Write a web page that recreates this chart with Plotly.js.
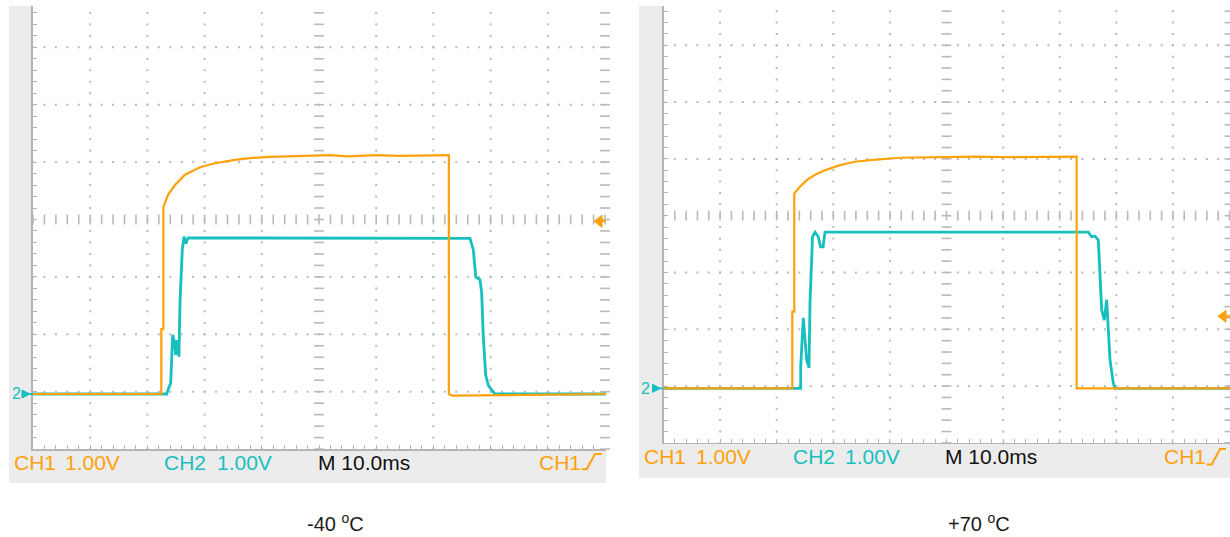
<!DOCTYPE html>
<html>
<head>
<meta charset="utf-8">
<script src="https://cdn.plot.ly/plotly-3.0.1.min.js"></script>
<style>
html,body{margin:0;padding:0;background:#ffffff;}
#chart{width:1230px;height:537px;}
</style>
</head>
<body>
<div id="chart"></div>
<script>
// ---------------- DATA (time in ms, voltage in V relative to ground; 1 V/div, 10 ms/div) ----------------
const panelCaptions = ['-40 <sup>o</sup>C', '+70 <sup>o</sup>C'];
const scaleLabels = ['CH1', '1.00V', 'CH2', '1.00V', 'M 10.0ms', 'CH1'];
const groundLabel = '2';

// -40 C, CH1 (orange)
const leftCh1T = [0, 22.43, 22.43, 22.78, 22.78, 23.6, 24.83, 26.57, 29.2, 31.8, 35.3, 37.9, 41.4, 46.7, 52.0, 55.0, 60.0, 64.0, 68.0, 72.7, 72.7, 73.3, 100.2];
const leftCh1V = [0, 0, 1.13, 1.13, 3.25, 3.47, 3.64, 3.82, 3.95, 4.02, 4.08, 4.11, 4.13, 4.15, 4.16, 4.14, 4.16, 4.15, 4.16, 4.16, 0.0, -0.03, 0];
// -40 C, CH2 (cyan)
const leftCh2T = [0, 23.37, 23.6, 24.07, 24.42, 24.74, 24.95, 25.17, 25.52, 25.70, 26.10, 26.40, 26.75, 27.10, 76.40, 76.98, 77.40, 78.15, 78.44, 78.72, 79.14, 79.60, 80.19, 80.77, 100.2];
const leftCh2V = [0, 0, 0.07, 0.19, 1.03, 0.89, 0.68, 0.94, 0.65, 1.61, 2.51, 2.74, 2.62, 2.72, 2.71, 2.51, 2.04, 1.99, 1.76, 1.00, 0.33, 0.15, 0.07, 0, 0];

// +70 C, CH1 (orange)
const rightCh1T = [0, 22.76, 22.76, 23.11, 23.11, 24.1, 25.35, 26.77, 28.53, 31.2, 33.8, 36.5, 41.8, 47.1, 55.0, 60.0, 66.0, 73.0, 73.0, 100.1];
const rightCh1V = [0, 0, 1.35, 1.35, 3.43, 3.55, 3.67, 3.76, 3.84, 3.93, 3.99, 4.02, 4.06, 4.07, 4.08, 4.07, 4.08, 4.08, 0, 0];
// +70 C, CH2 (cyan)
const rightCh2T = [0, 24.24, 24.24, 24.70, 25.30, 25.71, 25.88, 26.33, 26.77, 27.35, 27.74, 28.2, 28.53, 75.05, 75.65, 76.24, 76.82, 77.0, 77.42, 77.88, 78.30, 78.5, 78.89, 79.47, 79.77, 100.1];
const rightCh2V = [0, 0, 0.38, 1.24, 0.50, 0.36, 1.50, 2.67, 2.75, 2.67, 2.49, 2.49, 2.75, 2.75, 2.67, 2.68, 2.61, 2.26, 1.38, 1.20, 1.56, 1.20, 0.50, 0.09, 0, 0];

// CH1 trigger level (V) shown by the arrow at the right edge
const triggerLevelV = [3.01, 1.27];

// ---------------- LAYOUT GEOMETRY ----------------
const W = 1230, H = 537;
const ORANGE = '#ffa10a', CYAN = '#17bfbf', GRID = '#b9b9b9', EDGE = '#b4b4b4';
const panels = [
  {x0: 33, x1: 606, pxPerMs: 5.72, yTop: 6, center: 219.5, divPx: 57.4, groundDiv: -3.04,
   frame: [9, 606, 6, 483], textY: 462, textX: [12, 63, 162, 215, 316, 537],
   glyph: [[581.7,469.3],[586.7,469.3],[595,454],[601.7,454]], gndX: 16, capX: 335,
   ch1: [leftCh1T, leftCh1V], ch2: [leftCh2T, leftCh2V]},
  {x0: 663.5, x1: 1230, pxPerMs: 5.66, yTop: 6, center: 215.7, divPx: 56.8, groundDiv: -3.04,
   frame: [639, 1230, 6, 478], textY: 456, textX: [642, 694, 791, 843, 943, 1162],
   glyph: [[1206.7,464.5],[1211.7,464.5],[1220,449],[1226,449]], gndX: 646, capX: 979,
   ch1: [rightCh1T, rightCh1V], ch2: [rightCh2T, rightCh2V]}
];

const px = x => x / W;
const py = y => 1 - y / H;

const traces = [];
const layout = {
  width: W, height: H,
  margin: {l: 0, r: 0, t: 0, b: 0},
  paper_bgcolor: '#ffffff', plot_bgcolor: 'rgba(0,0,0,0)',
  showlegend: false, shapes: [], annotations: []
};

function range(a, b, s) { const r = []; for (let v = a; v <= b + 1e-9; v += s) r.push(+v.toFixed(4)); return r; }

panels.forEach((p, i) => {
  const ax = i === 0 ? '' : '2';
  const xa = 'x' + ax, ya = 'y' + ax;
  const tMax = (p.x1 - p.x0) / p.pxPerMs;
  const g = p.groundDiv;
  const bottomDiv = -4;
  const topDiv = (p.center - p.yTop) / p.divPx;
  const yBottomPx = p.center + 4 * p.divPx;
  const v = d => d - g; // division -> volts
  const msPx = 1 / p.pxPerMs, vPx = 1 / p.divPx; // one pixel in data units
  const groundPx = p.center - g * p.divPx;     // pixel row of 0 V

  layout['xaxis' + ax] = {domain: [px(p.x0), px(p.x1)], range: [0, tMax], anchor: ya,
    showgrid: false, zeroline: false, showticklabels: false, ticks: 'inside', tick0: 0, dtick: 2,
    ticklen: 4, tickwidth: 1, tickcolor: EDGE, showline: true, linecolor: EDGE, linewidth: 1.5, fixedrange: true};
  layout['yaxis' + ax] = {domain: [py(yBottomPx), py(p.yTop)], range: [v(bottomDiv), v(topDiv)], anchor: xa,
    showgrid: false, zeroline: false, showticklabels: false, ticks: 'inside', tick0: v(0), dtick: 0.2,
    ticklen: 4, tickwidth: 1, tickcolor: EDGE, showline: true, linecolor: EDGE, linewidth: 2, fixedrange: true};

  // panel backgrounds
  layout.shapes.push({type: 'rect', xref: 'paper', yref: 'paper', layer: 'below',
    x0: px(p.frame[0]), x1: px(p.frame[1]), y0: py(p.frame[3]), y1: py(p.frame[2]),
    fillcolor: '#ececec', line: {width: 0}});
  layout.shapes.push({type: 'rect', xref: 'paper', yref: 'paper', layer: 'below',
    x0: px(p.x0), x1: px(p.x1), y0: py(yBottomPx), y1: py(p.yTop),
    fillcolor: '#ffffff', line: {width: 0}});

  // graticule dots
  const dx = [], dy = [];
  const vDots = range(bottomDiv, topDiv, 0.2);
  [10, 20, 30, 40, 60, 70, 80, 90].forEach(t => vDots.forEach(d => { dx.push(t); dy.push(v(d)); }));
  const hDots = range(0, 100, 2);
  [-3, -2, -1, 1, 2, 3].forEach(d => hDots.forEach(t => { dx.push(t); dy.push(v(d)); }));
  traces.push({type: 'scatter', mode: 'markers', x: dx, y: dy, xaxis: xa, yaxis: ya, hoverinfo: 'skip',
    marker: {symbol: 'square', size: 2, color: GRID, line: {width: 0}}});
  // center + right-edge dashes
  const ex = [], ey = [];
  [50, 100].forEach(t => vDots.forEach(d => { ex.push(t); ey.push(v(d)); }));
  traces.push({type: 'scatter', mode: 'markers', x: ex, y: ey, xaxis: xa, yaxis: ya, hoverinfo: 'skip', cliponaxis: false,
    marker: {symbol: 'line-ew', size: 7, line: {width: 1.6, color: GRID}}});
  traces.push({type: 'scatter', mode: 'markers', x: hDots, y: hDots.map(() => v(0)), xaxis: xa, yaxis: ya, hoverinfo: 'skip',
    marker: {symbol: 'line-ns', size: 7, line: {width: 1.6, color: GRID}}});

  // waveforms: CH2 below CH1
  traces.push({type: 'scatter', mode: 'lines', x: p.ch2[0], y: p.ch2[1], xaxis: xa, yaxis: ya, hoverinfo: 'skip',
    line: {color: CYAN, width: 2.8}});
  traces.push({type: 'scatter', mode: 'lines', x: p.ch1[0], y: p.ch1[1], xaxis: xa, yaxis: ya, hoverinfo: 'skip',
    line: {color: ORANGE, width: 2.2}});

  // ground-reference arrow (at 0 V, just left of the graticule), paper coords so it is not clipped
  const gl = p.x0 - 11, gr = p.x0 - 3;
  layout.shapes.push({type: 'path', xref: 'paper', yref: 'paper',
    path: `M${px(gl)},${py(groundPx - 4)} L${px(gr)},${py(groundPx)} L${px(gl)},${py(groundPx + 4)} Z`,
    fillcolor: CYAN, line: {color: CYAN, width: 1}});
  layout.shapes.push({type: 'line', xref: 'paper', yref: 'paper', x0: px(gr), x1: px(p.x0), y0: py(groundPx), y1: py(groundPx),
    line: {color: CYAN, width: 2}});
  layout.annotations.push({xref: 'paper', yref: 'paper', x: px(p.gndX), y: py(groundPx), xanchor: 'center', yanchor: 'middle',
    text: groundLabel, showarrow: false, font: {family: 'Liberation Sans, Arial, sans-serif', size: 16, color: CYAN}});

  // trigger-level arrow (CH1) at right edge
  const tl = triggerLevelV[i];
  const ax0 = tMax - 12 * msPx, ax1 = tMax - 4 * msPx;
  layout.shapes.push({type: 'path', xref: xa, yref: ya,
    path: `M${ax0},${tl} L${ax1},${tl + 6 * vPx} L${ax1},${tl - 6 * vPx} Z`,
    fillcolor: ORANGE, line: {color: ORANGE, width: 1}});
  layout.shapes.push({type: 'line', xref: xa, yref: ya, x0: ax1, x1: tMax, y0: tl, y1: tl,
    line: {color: ORANGE, width: 2}});

  // bottom scale read-outs
  const colors = [ORANGE, ORANGE, CYAN, CYAN, '#111111', ORANGE];
  scaleLabels.forEach((s, k) => {
    layout.annotations.push({xref: 'paper', yref: 'paper', x: px(p.textX[k]), y: py(p.textY), xanchor: 'left', yanchor: 'middle',
      text: s, showarrow: false, font: {family: 'Liberation Sans, Arial, sans-serif', size: 21, color: colors[k]}});
  });
  // trigger slope glyph
  layout.shapes.push({type: 'path', xref: 'paper', yref: 'paper',
    path: 'M' + p.glyph.map(q => px(q[0]) + ',' + py(q[1])).join(' L'),
    line: {color: ORANGE, width: 2}});

  // caption
  layout.annotations.push({xref: 'paper', yref: 'paper', x: px(p.capX), y: py(522), xanchor: 'center', yanchor: 'middle',
    text: panelCaptions[i], showarrow: false, font: {family: 'Liberation Sans, Arial, sans-serif', size: 20, color: '#1a1a1a'}});
});

Plotly.newPlot('chart', traces, layout, {staticPlot: true, displayModeBar: false});
</script>
</body>
</html>
